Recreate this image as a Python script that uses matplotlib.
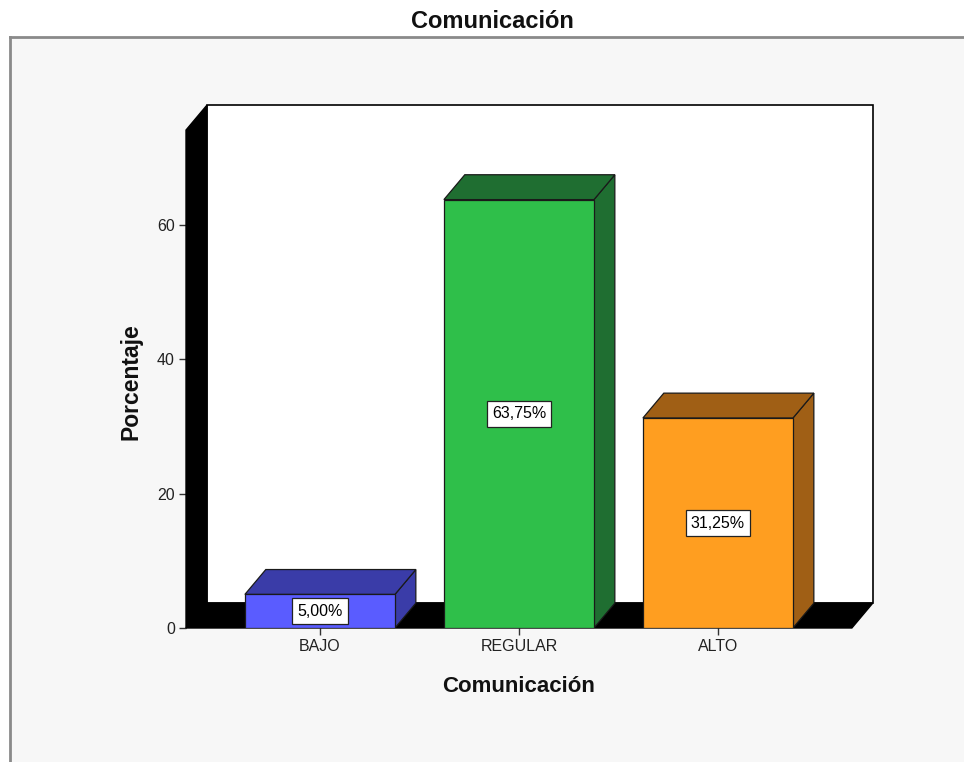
import numpy as np
import matplotlib.pyplot as plt
from matplotlib.patches import Polygon, Rectangle
from matplotlib.lines import Line2D

categories = ["BAJO", "REGULAR", "ALTO"]
porcentaje = [5.00, 63.75, 31.25]
etiquetas = ["5,00%", "63,75%", "31,25%"]
front_colors = ["#5a5cff", "#2fbf4a", "#ff9e20"]
dark_colors = ["#3a3ca8", "#1f6e31", "#a05f15"]

plt.rcParams["font.family"] = ["Liberation Sans", "DejaVu Sans"]

# 3d look: depth offset in data units
dx, dy = 0.105, 3.7
bar_w = 0.754
x0, x1 = -0.673, 2.673      # front edge of the floor
ytop = 77.8

fig = plt.figure(figsize=(9.64, 7.62), dpi=100)
fig.patch.set_facecolor("white")

# grey panel with frame on top/left
fig.add_artist(Rectangle((10/964, 0), 1, 1 - 37/762, transform=fig.transFigure,
                         facecolor="#f7f7f7", edgecolor="none", zorder=-10))
fig.add_artist(Line2D([10/964, 1], [1 - 37/762, 1 - 37/762], transform=fig.transFigure,
                      color="#8a8a8a", lw=2))
fig.add_artist(Line2D([10/964, 10/964], [0, 1 - 37/762], transform=fig.transFigure,
                      color="#8a8a8a", lw=2))

ax = fig.add_axes([186/964, 1 - 628/762, 0.7124, 0.6861])
ax.set_xlim(x0, x1 + dx)
ax.set_ylim(0, ytop)
ax.patch.set_alpha(0)
for s in ax.spines.values():
    s.set_visible(False)

# back wall
ax.add_patch(Rectangle((x0 + dx, dy), x1 - x0, ytop - dy, facecolor="white",
                       edgecolor="black", lw=1.2, clip_on=False, zorder=1))
# left wall
ax.add_patch(Polygon([(x0, 0), (x0 + dx, dy), (x0 + dx, ytop), (x0, ytop - dy)],
                     closed=True, facecolor="black", edgecolor="black", clip_on=False, zorder=2))
# floor
ax.add_patch(Polygon([(x0, 0), (x1, 0), (x1 + dx, dy), (x0 + dx, dy)],
                     closed=True, facecolor="black", edgecolor="black", clip_on=False, zorder=2))

xs = np.arange(len(categories))
for i, (x, v) in enumerate(zip(xs, porcentaje)):
    l, r = x - bar_w / 2, x + bar_w / 2
    ax.add_patch(Polygon([(r, 0), (r + dx, dy), (r + dx, v + dy), (r, v)], closed=True,
                         facecolor=dark_colors[i], edgecolor="#1a1a1a", lw=0.9, zorder=3))
    ax.add_patch(Polygon([(l, v), (r, v), (r + dx, v + dy), (l + dx, v + dy)], closed=True,
                         facecolor=dark_colors[i], edgecolor="#1a1a1a", lw=0.9, zorder=3))
    ax.add_patch(Rectangle((l, 0), bar_w, v, facecolor=front_colors[i],
                           edgecolor="#1a1a1a", lw=0.9, zorder=4))
    ax.text(x, v / 2, etiquetas[i], ha="center", va="center", fontsize=11.5, zorder=5,
            bbox=dict(boxstyle="square,pad=0.33", facecolor="white", edgecolor="#222222", lw=0.9))

ax.set_xticks(xs)
ax.set_xticklabels(categories, fontsize=11.5, color="#222222")
ax.set_yticks([0, 20, 40, 60])
ax.tick_params(axis="both", direction="out", length=5, width=1, color="#333333", pad=3)
ax.tick_params(axis="y", labelsize=11.5, labelcolor="#222222")

fig.text(492/964, 1 - 21/762, "Comunicación", ha="center", va="center",
         fontsize=17, fontweight="bold", color="#111111")
fig.text(519/964, 1 - 687/762, "Comunicación", ha="center", va="center",
         fontsize=16, fontweight="bold", color="#111111")
fig.text(131/964, 1 - 382/762, "Porcentaje", ha="center", va="center", rotation=90,
         fontsize=16.5, fontweight="bold", color="#111111")

fig.savefig("out.png", dpi=100)
